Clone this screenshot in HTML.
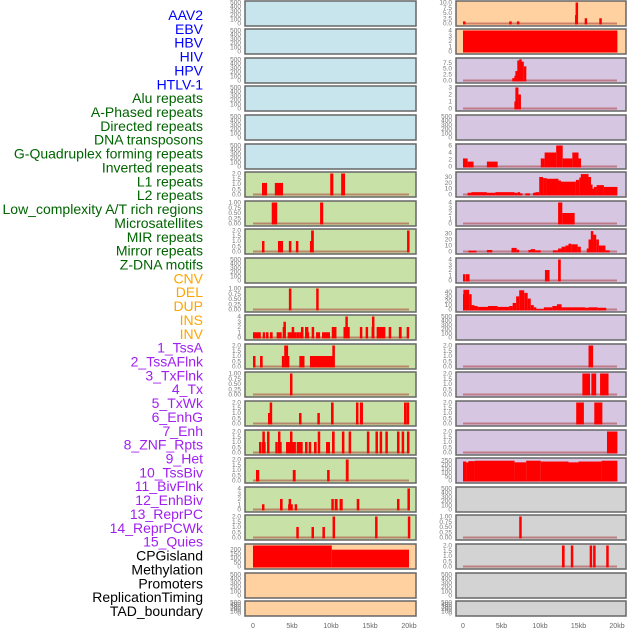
<!DOCTYPE html>
<html><head><meta charset="utf-8"><style>
body{margin:0;background:#fff;width:630px;height:630px;overflow:hidden}
svg{display:block}
text{font-family:"Liberation Sans",sans-serif}
</style></head><body>
<svg id="c" width="630" height="630" xmlns="http://www.w3.org/2000/svg"></svg>
<script>
// ---- track labels ----
const trackLabels = ["AAV2","EBV","HBV","HIV","HPV","HTLV-1","Alu repeats","A-Phased repeats","Directed repeats","DNA transposons","G-Quadruplex forming repeats","Inverted repeats","L1 repeats","L2 repeats","Low_complexity A/T rich regions","Microsatellites","MIR repeats","Mirror repeats","Z-DNA motifs","CNV","DEL","DUP","INS","INV","1_TssA","2_TssAFlnk","3_TxFlnk","4_Tx","5_TxWk","6_EnhG","7_Enh","8_ZNF_Rpts","9_Het","10_TssBiv","11_BivFlnk","12_EnhBiv","13_ReprPC","14_ReprPCWk","15_Quies","CPGisland","Methylation","Promoters","ReplicationTiming","TAD_boundary"];
const labelGroups = [6,13,5,15,5];
const xTickValues = [0,5,10,15,20];
const xTickLabels = ["0","5kb","10kb","15kb","20kb"];
// ---- tick sets ----
const ticksEmpty = [0,100,200,300,400,500];
const ticks2 = [0,0.5,1,1.5,2];
const ticks1 = [0,0.25,0.5,0.75,1];
const ticks4 = [0,1,2,3,4];
const ticks3 = [0,1,2,3];
const ticks10 = [0,2.5,5,7.5,10];
const ticks75 = [0,2.5,5,7.5];
const ticks6 = [0,2,4,6];
const ticks30 = [0,10,20,30];
const ticks40 = [0,10,20,30,40];
const ticks250 = [0,50,100,150,200,250];
const ticks200 = [0,50,100,150,200];
// ---- left column bars [startKb, endKb, value] ----
const L6 = [[1.15,1.8,1.1],[2.8,3.85,1.1],[9.9,10.3,2],[11.3,11.8,2]];
const L7 = [[2.4,3.1,1],[8.6,9.0,1]];
const L8 = [[1.15,1.4,1],[3.2,3.85,1],[4.6,4.85,1],[5.5,5.75,1],[7.3,7.55,1],[7.45,7.8,2],[19.75,20.05,2]];
const L10 = [[4.6,4.85,1],[8.1,8.35,1]];
const L11 = [[0,1.0,1],[1.24,1.54,1],[1.67,1.92,1],[2.18,2.52,1],[3.03,3.68,1],[3.8,4.19,2],[3.9,4.19,3],[4.44,5.6,1],[4.96,5.2,2],[5.6,6.0,1],[6.0,6.45,1],[6.15,6.37,2],[6.67,7.1,2],[6.88,7.14,1],[7.52,7.74,2],[8.08,8.6,1],[8.85,9.87,1],[10.1,10.7,2],[11.6,12.4,2],[11.84,12.05,4],[13.7,14.0,2],[14.44,14.7,2],[15.2,15.5,2],[15.25,15.45,4],[15.85,16.97,2],[17.4,17.65,2],[18.7,19.06,2],[19.7,19.96,2]];
const L12 = [[0,0.2,1],[0.9,1.24,1],[3.7,4.0,1],[4.0,4.5,2],[4.2,4.66,1],[5.94,6.6,1],[7.3,10.2,1],[10.17,10.5,2]];
const L13 = [[4.74,5.0,1]];
const L14 = [[1.92,2.18,1],[2.14,2.4,2],[5.9,6.2,1],[8.25,8.55,1],[10.0,10.34,2],[13.2,13.46,2],[13.7,14.1,2],[19.36,19.6,2],[19.7,20.0,2]];
const L15 = [[0.77,1.0,1],[1.2,1.32,2],[1.15,1.62,1],[1.8,2.05,2],[2.86,3.08,1],[3.2,3.46,2],[3.3,3.68,1],[4.23,4.87,1],[4.74,5.0,2],[5.0,5.5,1],[5.6,5.8,1],[5.9,6.37,1],[6.67,6.97,1],[7.14,7.44,1],[7.82,8.16,1],[8.3,8.55,2],[9.36,9.87,1],[10.13,10.47,2],[11.4,11.67,2],[12.26,12.56,2],[14.6,14.87,2],[15.7,15.94,2],[16.24,16.5,2],[16.97,17.18,2],[18.46,18.72,2],[19.06,19.3,2],[19.74,20.05,2]];
const L16 = [[0.38,0.8,1],[5.1,5.47,1],[9.5,9.83,1],[11.9,12.26,2]];
const L17 = [[1.15,1.37,1],[3.46,3.8,2],[4.57,4.87,2],[4.5,5.1,1],[5.34,5.6,1],[10.04,10.3,2],[10.47,10.85,2],[11.1,11.5,2],[13.3,13.63,2],[18.46,18.72,2],[19.8,20.05,4]];
const L18 = [[5.55,5.75,1],[7.5,7.75,1],[8.9,9.15,1],[10.2,10.45,2],[15.65,15.9,2],[19.85,20.1,2]];
const L19 = [[0,10.1,250],[10.1,20.0,200]];
// ---- right column bars ----
const R0 = [[0,0.15,1],[6.0,6.2,1],[7.0,7.3,1],[14.55,14.65,4],[14.62,14.8,10],[15.8,16.0,2.5],[17.7,17.9,2.5]];
const R1 = [[0,20.05,4]];
const R2 = [[6.4,6.7,1],[6.67,6.9,2],[6.8,7.1,4],[7.05,7.3,8.5],[7.3,7.56,9],[7.56,7.9,8],[7.9,8.1,6]];
const R3 = [[6.67,6.9,1],[6.8,7.2,3],[7.2,7.48,2]];
const R5 = [[0,0.6,2.3],[0.6,1.37,1.4],[3.1,4.5,1.4],[10.1,10.6,2.3],[10.6,12.1,4],[12.1,12.95,6],[12.95,14.2,2.3],[14.2,15.0,4],[15.0,15.1,2.3]];
const R6 = [[0.6,1.1,3],[1.1,3.1,4],[3.1,4.2,3],[4.2,6.7,4],[6.7,7.1,3],[7.1,7.4,4],[7.4,7.7,2],[8.1,8.7,2],[9.1,9.4,3],[9.4,9.9,4],[9.9,10.4,30],[10.4,10.9,28],[10.9,12.4,27],[12.4,12.65,24],[12.65,14.66,22],[14.66,15.1,25],[15.1,15.3,29],[15.3,16.3,35],[16.3,16.5,30],[16.5,16.8,17],[16.8,17.0,10],[17.0,17.35,13],[17.35,18.3,16],[18.3,20.05,13]];
const R7 = [[12.35,12.9,4],[12.9,14.5,2]];
const R8 = [[0.7,1.75,1.5],[3.1,3.8,2.5],[6.3,6.97,6],[6.97,7.3,3],[8.5,8.8,2.5],[8.8,9.36,4],[9.36,10.1,2],[11.67,12.35,2],[12.35,12.8,5],[12.8,13.3,8],[13.3,13.7,10],[13.7,14.06,13],[14.06,14.9,12],[14.9,15.3,8],[16.07,16.3,5],[16.3,16.6,20],[16.6,16.9,34],[16.9,17.3,28],[17.3,17.65,20],[17.65,18.5,10],[18.5,19.06,2]];
const R9 = [[0,0.1,1.2],[0.38,0.85,1.2],[10.64,11.24,2],[12.35,12.7,4]];
const R10 = [[0,0.05,35],[0.05,0.8,45],[0.8,1.1,35],[1.1,1.5,10],[1.5,1.9,8],[1.9,3.25,6],[3.25,4.5,8],[4.5,6.0,6],[6.0,6.45,8],[6.45,6.9,15],[6.9,7.3,30],[7.3,7.95,44],[7.95,8.4,38],[8.4,8.8,25],[8.8,9.2,10],[9.2,9.5,5],[9.5,10.5,1],[10.5,11.6,5],[11.6,12.2,8],[12.2,12.8,12],[12.8,13.3,5],[13.3,15.85,5],[15.85,16.3,4],[16.3,17.5,5],[17.5,18.6,4]];
const R12 = [[16.3,16.9,2]];
const R13 = [[15.5,16.5,2],[16.67,17.3,2],[17.8,18.9,2]];
const R14 = [[14.7,15.7,2],[17.05,18.1,2]];
const R15 = [[18.7,20.05,2]];
const R16 = [[0,0.4,235],[0.4,0.7,225],[0.7,1.55,240],[1.55,6.7,245],[6.7,8.2,225],[8.2,10.1,245],[10.1,13.7,235],[13.7,15.0,225],[15.0,18.0,235],[18.0,20.05,245]];
const R18 = [[7.3,7.55,1]];
const R19 = [[12.85,13.2,2],[14.0,14.3,2],[16.45,16.7,2],[16.9,17.1,2],[18.6,18.9,2]];

const BLUE="#c8e4ec",GREEN="#c8e1a6",ORANGE="#ffd0a0",PURPLE="#d6c6e2",GRAY="#d3d3d3";
const leftRows = [
 [BLUE,ticksEmpty,500,null],[BLUE,ticksEmpty,500,null],[BLUE,ticksEmpty,500,null],[BLUE,ticksEmpty,500,null],[BLUE,ticksEmpty,500,null],[BLUE,ticksEmpty,500,null],
 [GREEN,ticks2,2,L6],[GREEN,ticks1,1,L7],[GREEN,ticks2,2,L8],[GREEN,ticksEmpty,500,null],[GREEN,ticks1,1,L10],[GREEN,ticks4,4,L11],
 [GREEN,ticks2,2,L12],[GREEN,ticks1,1,L13],[GREEN,ticks2,2,L14],[GREEN,ticks2,2,L15],[GREEN,ticks2,2,L16],[GREEN,ticks4,4,L17],[GREEN,ticks2,2,L18],
 [ORANGE,ticks200,250,L19],[ORANGE,ticksEmpty,500,null],[ORANGE,ticksEmpty,500,null]];
const rightRows = [
 [ORANGE,ticks10,10,R0],[ORANGE,ticks4,4,R1],[PURPLE,ticks75,8.9,R2],[PURPLE,ticks3,3,R3],[PURPLE,ticksEmpty,500,null],[PURPLE,ticks6,6,R5],
 [PURPLE,ticks30,36,R6],[PURPLE,ticks4,4,R7],[PURPLE,ticks30,35,R8],[PURPLE,ticks4,4,R9],[PURPLE,ticks40,48,R10],[PURPLE,ticksEmpty,500,null],
 [PURPLE,ticks2,2,R12],[PURPLE,ticks2,2,R13],[PURPLE,ticks2,2,R14],[PURPLE,ticks2,2,R15],[PURPLE,ticks250,260,R16],[GRAY,ticksEmpty,500,null],
 [GRAY,ticks1,1,R18],[GRAY,ticks2,2,R19],[GRAY,ticksEmpty,500,null],[GRAY,ticksEmpty,500,null]];

const NS="http://www.w3.org/2000/svg";
const svg=document.getElementById('c');
function mk(tag,attrs,parent){const e=document.createElementNS(NS,tag);for(const k in attrs)e.setAttribute(k,attrs[k]);(parent||svg).appendChild(e);return e;}

// labels
const groupColors=["#0000ff","#006400","#ffa500","#a020f0","#000000"];
let gi=0,cnt=0;
trackLabels.forEach((t,i)=>{
  while(cnt>=labelGroups[gi]){cnt=0;gi++;}
  cnt++;
  const e=mk('text',{x:203,y:15+i*13.86+5,'text-anchor':'end','font-size':'14px',fill:groupColors[gi]});
  e.textContent=t;
  
  
});

function fmt(v,ticks){
  const hasHalf=ticks.some(t=>Math.abs(t*4-Math.round(t*4))<1e-9&&t%0.5!==0);
  if(hasHalf) return v.toFixed(2);
  if(ticks.some(t=>t%1!==0)) return v.toFixed(1);
  return String(v);
}
function drawCol(rows,px0,px1,kx0,kx1,side){
  const xs=k=>kx0+(kx1-kx0)*k/20;
  rows.forEach((r,i)=>{
    const [bg,ticks,ymax,bars]=r;
    const top=Math.round(0.5+i*28.6);
    const h=(i===21)?15:25;
    const g=mk('g',{});
    
    
    mk('rect',{x:px0,y:top,width:px1-px0,height:h,fill:bg,stroke:'#666','stroke-width':1.5},g);
    const y0=top+h-2.5, y1=top+1.5;
    const ys=v=>y0-(y0-y1)*v/ymax;
    ticks.forEach(t=>{
      const e=mk('text',{x:px0-4,y:ys(t)+2,'text-anchor':'end','font-size':'6.5px',fill:'#777'},g);
      e.textContent=fmt(t,ticks);
      
      
    });
    if(bars){
      mk('line',{x1:xs(0),x2:xs(20),y1:y0,y2:y0,stroke:'rgba(170,60,60,0.55)','stroke-width':2},g);
      bars.forEach(b=>{
        const xa=xs(b[0]),xb=xs(b[1]);
        const w=Math.max(2.5,xb-xa);
        const e=mk('rect',{x:xa,y:ys(b[2]),width:w,height:y0-ys(b[2])+1,fill:'#ff0000'},g);
        
        
      });
    }
  });
  xTickValues.forEach((v,j)=>{
    const e=mk('text',{x:xs(v),y:628,'text-anchor':'middle','font-size':'7px',fill:'#666'});
    e.textContent=xTickLabels[j];
    
    
  });
}
drawCol(leftRows,245,416,253,409,'left');
drawCol(rightRows,456,626,463,617,'right');
</script>
</body></html>
